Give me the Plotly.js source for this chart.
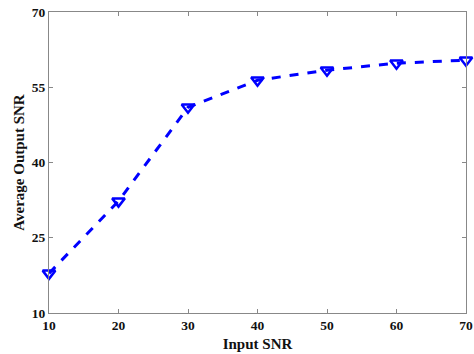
<!DOCTYPE html>
<html><head><meta charset="utf-8">
<script src="https://cdn.plot.ly/plotly-3.0.1.min.js"></script>
<style>html,body{margin:0;padding:0;background:#fff}#c{width:474px;height:354px}</style>
</head><body><div id="c"></div>
<script>
const inputSNR = [10, 20, 30, 40, 50, 60, 70];
const avgOutputSNR = [17.9, 32.3, 51.0, 56.4, 58.4, 59.8, 60.4];
const xTicks = [10, 20, 30, 40, 50, 60, 70];
const yTicks = [10, 25, 40, 55, 70];

const font = {family: '"Liberation Serif", "Times New Roman", serif', size: 13, color: '#111'};
const axisBase = {
  showgrid: false, zeroline: false, showline: true, linecolor: '#888', linewidth: 1,
  mirror: 'ticks', ticks: 'inside', ticklen: 4, tickcolor: '#888', tickwidth: 1,
  tickfont: {family: font.family, size: 13.5, color: '#111', weight: 'bold'}
};
Plotly.newPlot('c', [{
  x: inputSNR, y: avgOutputSNR, type: 'scatter', mode: 'lines+markers',
  line: {color: '#0000ff', width: 3, dash: 'dash'},
  marker: {symbol: 'triangle-down-open', size: 11, color: '#0000ff', line: {width: 2.5, color: '#0000ff'}},
  cliponaxis: false
}], {
  width: 474, height: 354,
  margin: {l: 49, r: 8, t: 12, b: 41},
  paper_bgcolor: '#fff', plot_bgcolor: '#fff',
  showlegend: false,
  font: font,
  xaxis: Object.assign({}, axisBase, {range: [10, 70], tickvals: xTicks,
    title: {text: 'Input SNR', font: {family: font.family, size: 15, color: '#111', weight: 'bold'}, standoff: 6}}),
  yaxis: Object.assign({}, axisBase, {range: [10, 70], tickvals: yTicks,
    title: {text: 'Average Output SNR', font: {family: font.family, size: 15, color: '#111', weight: 'bold'}, standoff: 3}})
}, {staticPlot: true});
</script></body></html>
